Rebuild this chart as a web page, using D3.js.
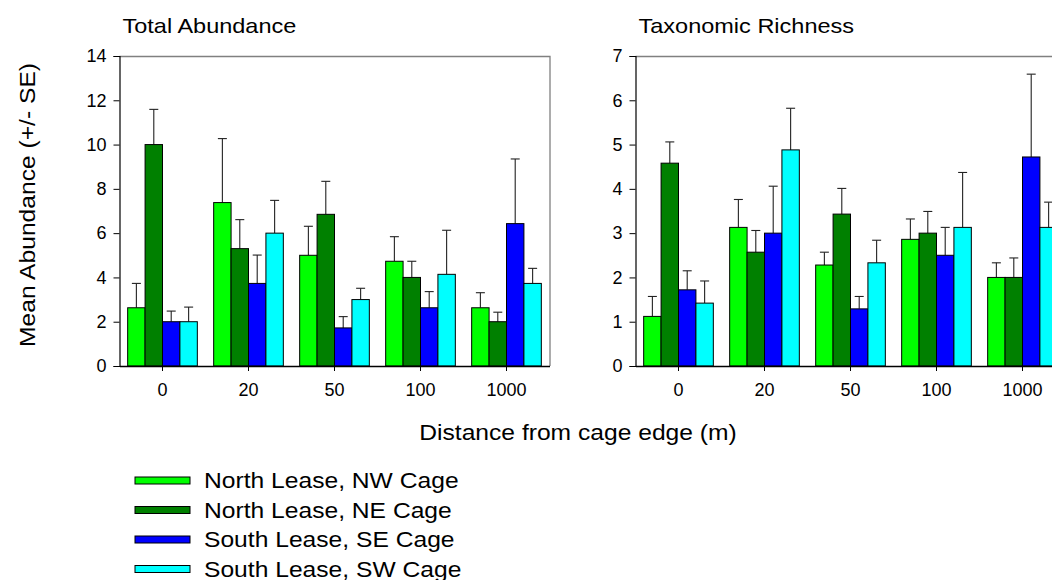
<!DOCTYPE html>
<html>
<head>
<meta charset="utf-8">
<script src="https://cdn.jsdelivr.net/npm/d3@7"></script>
<style>
  html, body { margin: 0; padding: 0; background: #fff; }
  svg { display: block; font-family: Arial, "Liberation Sans", sans-serif; }
</style>
</head>
<body>
<svg id="chart" width="1052" height="580"></svg>
<script>
// Distance classes (x categories)
const distances = ["0", "20", "50", "100", "1000"];

// Sampling stations
const seriesNames = [
  "North Lease, NW Cage",
  "North Lease, NE Cage",
  "South Lease, SE Cage",
  "South Lease, SW Cage"
];
const seriesColors = ["#00ff00", "#008000", "#0000ff", "#00ffff"];

// Total abundance: mean and standard error per station, by distance
const abundanceNW = [2.63, 7.38, 5.0, 4.73, 2.63];
const abundanceNE = [10.0, 5.30, 6.85, 4.0, 2.0];
const abundanceSE = [2.0, 3.73, 1.72, 2.63, 6.43];
const abundanceSW = [2.0, 6.0, 3.0, 4.14, 3.73];
const abundanceErrNW = [1.10, 2.89, 1.31, 1.11, 0.68];
const abundanceErrNE = [1.59, 1.31, 1.49, 0.73, 0.43];
const abundanceErrSE = [0.48, 1.28, 0.51, 0.73, 2.92];
const abundanceErrSW = [0.66, 1.48, 0.51, 1.99, 0.68];

// Taxonomic richness: mean and standard error per station, by distance
const richnessNW = [1.12, 3.13, 2.28, 2.86, 2.0];
const richnessNE = [4.58, 2.57, 3.43, 3.0, 2.0];
const richnessSE = [1.72, 3.0, 1.29, 2.5, 4.72];
const richnessSW = [1.42, 4.88, 2.33, 3.13, 3.13];
const richnessErrNW = [0.45, 0.63, 0.29, 0.46, 0.33];
const richnessErrNE = [0.48, 0.49, 0.58, 0.49, 0.44];
const richnessErrSE = [0.43, 1.06, 0.28, 0.63, 1.87];
const richnessErrSW = [0.50, 0.94, 0.51, 1.24, 0.57];

// Y axis ticks
const abundanceTicks = [0, 2, 4, 6, 8, 10, 12, 14];
const richnessTicks = [0, 1, 2, 3, 4, 5, 6, 7];

const svg = d3.select("#chart");
const yTop = 56, yBottom = 366;
const panelWidth = 430;
const stretch = 1.12;   // labels are set slightly wide

// text drawn with a horizontal stretch, anchored at (x, y)
function wideText(parent, x, y, str, size, anchor, rotate) {
  return parent.append("text")
    .attr("transform", `translate(${x},${y})` + (rotate ? ` rotate(${rotate})` : "") + ` scale(${stretch},1)`)
    .attr("text-anchor", anchor || "start")
    .attr("font-size", size).attr("fill", "#000")
    .text(str);
}

function drawPanel(left, title, means, errs, ticks, yMax) {
  const g = svg.append("g");
  const x = d3.scaleBand().domain(distances)
    .range([left, left + panelWidth]).paddingInner(0.19).paddingOuter(0.095);
  const xs = d3.scaleBand().domain(d3.range(seriesNames.length))
    .range([0, x.bandwidth()]);
  const y = d3.scaleLinear().domain([0, yMax]).range([yBottom, yTop]);

  // frame: top and right edges
  g.append("path")
    .attr("d", `M${left},${yTop + 0.5}H${left + panelWidth + 0.5}V${yBottom}`)
    .attr("fill", "none").attr("stroke", "#808080").attr("stroke-width", 1.3);

  // bars and error bars
  seriesNames.forEach((name, si) => {
    const sg = g.append("g");
    distances.forEach((d, di) => {
      const m = means[si][di], e = errs[si][di];
      const bx = x(d) + xs(si);
      const cx = bx + xs.bandwidth() / 2;
      sg.append("line")
        .attr("x1", cx).attr("x2", cx)
        .attr("y1", y(m)).attr("y2", y(m + e))
        .attr("stroke", "#222").attr("stroke-width", 1.1);
      sg.append("line")
        .attr("x1", cx - 4.5).attr("x2", cx + 4.5)
        .attr("y1", y(m + e)).attr("y2", y(m + e))
        .attr("stroke", "#222").attr("stroke-width", 1.1);
      sg.append("rect")
        .attr("x", bx).attr("y", y(m))
        .attr("width", xs.bandwidth()).attr("height", y(0) - y(m))
        .attr("fill", seriesColors[si])
        .attr("stroke", "#000").attr("stroke-width", 1);
    });
  });

  // y axis
  const ya = g.append("g").attr("transform", `translate(${left},0)`)
    .call(d3.axisLeft(y).tickValues(ticks).tickSize(6).tickPadding(7).tickFormat(d3.format("d")));
  ya.select(".domain").attr("stroke", "#000").attr("stroke-width", 1.2);
  ya.selectAll(".tick line").attr("stroke", "#000");
  ya.selectAll(".tick text").attr("font-size", 18).attr("fill", "#000")
    .attr("font-family", "Arial, 'Liberation Sans', sans-serif");

  // x axis
  const xa = g.append("g").attr("transform", `translate(0,${yBottom})`)
    .call(d3.axisBottom(x).tickSize(5).tickSizeOuter(0).tickPadding(12));
  xa.select(".domain").attr("stroke", "#000").attr("stroke-width", 1.5);
  xa.selectAll(".tick line").attr("stroke", "#000");
  xa.selectAll(".tick text").attr("font-size", 18).attr("fill", "#000")
    .attr("font-family", "Arial, 'Liberation Sans', sans-serif");

  // panel title
  wideText(g, left + 3, 33, title, 21);
}

drawPanel(119.5, "Total Abundance",
  [abundanceNW, abundanceNE, abundanceSE, abundanceSW],
  [abundanceErrNW, abundanceErrNE, abundanceErrSE, abundanceErrSW],
  abundanceTicks, 14);

drawPanel(635.5, "Taxonomic Richness",
  [richnessNW, richnessNE, richnessSE, richnessSW],
  [richnessErrNW, richnessErrNE, richnessErrSE, richnessErrSW],
  richnessTicks, 7);

// shared axis titles
wideText(svg, 35, 205, "Mean Abundance (+/- SE)", 22, "middle", -90);
wideText(svg, 578, 440, "Distance from cage edge (m)", 22, "middle");

// legend
const legend = svg.append("g");
seriesNames.forEach((name, i) => {
  const cy = 480.5 + i * 29.5;
  legend.append("rect")
    .attr("x", 135).attr("y", cy - 3.5).attr("width", 55).attr("height", 7)
    .attr("fill", seriesColors[i]).attr("stroke", "#000").attr("stroke-width", 1);
  wideText(legend, 204, cy + 7.5, name, 22);
});
</script>
</body>
</html>
